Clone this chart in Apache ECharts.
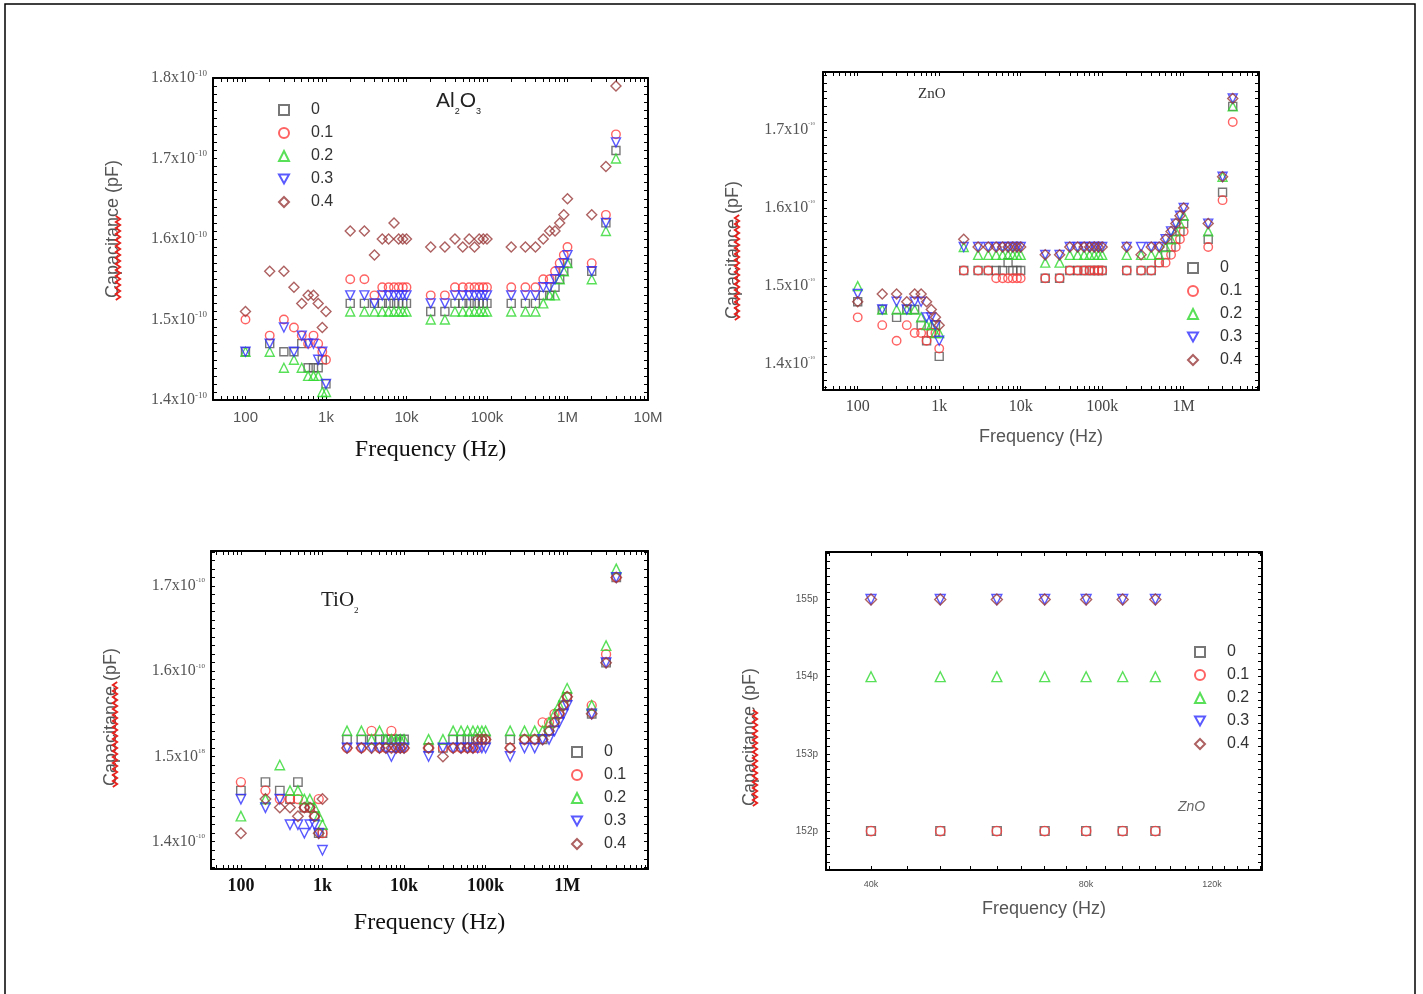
<!DOCTYPE html>
<html>
<head>
<meta charset="utf-8">
<script src="https://cdn.jsdelivr.net/npm/echarts@6/dist/echarts.min.js"></script>
<style>
  html, body { margin: 0; padding: 0; background: #fff; }
  #chart { width: 1423px; height: 994px; }
</style>
</head>
<body>
<div id="chart"></div>
<script>
// sweep frequencies (Hz), same for the three full sweeps
var freq = [100, 200, 300, 400, 500, 600, 700, 800, 900,
  1000, 2000, 3000, 4000, 5000, 6000, 7000, 8000, 9000,
  10000, 20000, 30000, 40000, 50000, 60000, 70000, 80000, 90000,
  100000, 200000, 300000, 400000, 500000, 600000, 700000, 800000, 900000,
  1000000, 2000000, 3000000, 4000000];

// Al2O3, capacitance x1e-10
var al0 = [1.46,1.47,1.46,1.46,1.47,1.44,1.44,1.44,1.45, 1.42,1.52,1.52,1.52,1.52,1.52,1.52,1.52,1.52, 1.52,1.51,1.51,1.52,1.52,1.52,1.52,1.52,1.52, 1.52,1.52,1.52,1.52,1.53,1.53,1.54,1.55,1.56, 1.57,1.56,1.62,1.71];
var al1 = [1.50,1.48,1.50,1.49,1.48,1.47,1.48,1.47,1.46, 1.45,1.55,1.55,1.53,1.54,1.54,1.54,1.54,1.54, 1.54,1.53,1.53,1.54,1.54,1.54,1.54,1.54,1.54, 1.54,1.54,1.54,1.54,1.55,1.55,1.56,1.57,1.58, 1.59,1.57,1.63,1.73];
var al2 = [1.46,1.46,1.44,1.45,1.44,1.43,1.43,1.43,1.41, 1.41,1.51,1.51,1.51,1.51,1.51,1.51,1.51,1.51, 1.51,1.50,1.50,1.51,1.51,1.51,1.51,1.51,1.51, 1.51,1.51,1.51,1.51,1.52,1.53,1.53,1.55,1.56, 1.57,1.55,1.61,1.70];
var al3 = [1.46,1.47,1.49,1.46,1.48,1.47,1.47,1.45,1.46, 1.42,1.53,1.53,1.52,1.53,1.53,1.53,1.53,1.53, 1.53,1.52,1.52,1.53,1.53,1.53,1.53,1.53,1.53, 1.53,1.53,1.53,1.53,1.54,1.54,1.55,1.56,1.57, 1.58,1.56,1.62,1.72];
var al4 = [1.51,1.56,1.56,1.54,1.52,1.53,1.53,1.52,1.49, 1.51,1.61,1.61,1.58,1.60,1.60,1.62,1.60,1.60, 1.60,1.59,1.59,1.60,1.59,1.60,1.59,1.60,1.60, 1.60,1.59,1.59,1.59,1.60,1.61,1.61,1.62,1.63, 1.65,1.63,1.69,1.79];

// ZnO
var zn0 = [1.48,1.47,1.46,1.47,1.47,1.45,1.43,1.44,1.45, 1.41,1.52,1.52,1.52,1.52,1.52,1.53,1.52,1.52, 1.52,1.51,1.51,1.52,1.52,1.52,1.52,1.52,1.52, 1.52,1.52,1.52,1.52,1.53,1.54,1.55,1.56,1.57, 1.58,1.56,1.62,1.73];
var zn1 = [1.46,1.45,1.43,1.45,1.44,1.44,1.43,1.44,1.44, 1.42,1.52,1.52,1.52,1.51,1.51,1.51,1.51,1.51, 1.51,1.51,1.51,1.52,1.52,1.52,1.52,1.52,1.52, 1.52,1.52,1.52,1.52,1.53,1.53,1.54,1.55,1.56, 1.57,1.55,1.61,1.71];
var zn2 = [1.50,1.47,1.47,1.47,1.47,1.46,1.45,1.45,1.44, 1.44,1.55,1.54,1.54,1.54,1.54,1.54,1.54,1.54, 1.54,1.53,1.53,1.54,1.54,1.54,1.54,1.54,1.54, 1.54,1.54,1.54,1.54,1.54,1.55,1.56,1.57,1.58, 1.59,1.57,1.64,1.73];
var zn3 = [1.49,1.47,1.48,1.47,1.48,1.48,1.46,1.46,1.45, 1.43,1.55,1.55,1.55,1.55,1.55,1.55,1.55,1.55, 1.55,1.54,1.54,1.55,1.55,1.55,1.55,1.55,1.55, 1.55,1.55,1.55,1.55,1.55,1.56,1.57,1.58,1.59, 1.60,1.58,1.64,1.74];
var zn4 = [1.48,1.49,1.49,1.48,1.49,1.49,1.48,1.47,1.46, 1.45,1.56,1.55,1.55,1.55,1.55,1.55,1.55,1.55, 1.55,1.54,1.54,1.55,1.55,1.55,1.55,1.55,1.55, 1.55,1.55,1.54,1.55,1.55,1.56,1.57,1.58,1.59, 1.60,1.58,1.64,1.74];

// TiO2
var ti0 = [1.46,1.47,1.46,1.45,1.47,1.44,1.44,1.43,1.41, 1.41,1.52,1.52,1.52,1.52,1.52,1.52,1.52,1.52, 1.52,1.51,1.51,1.52,1.52,1.52,1.52,1.52,1.52, 1.52,1.52,1.52,1.52,1.52,1.53,1.54,1.55,1.56, 1.57,1.55,1.61,1.71];
var ti1 = [1.47,1.46,1.45,1.45,1.45,1.44,1.44,1.43,1.45, 1.41,1.51,1.51,1.53,1.51,1.51,1.53,1.51,1.51, 1.51,1.51,1.51,1.51,1.51,1.51,1.51,1.51,1.52, 1.52,1.51,1.52,1.52,1.54,1.54,1.55,1.55,1.56, 1.57,1.56,1.62,1.71];
var ti2 = [1.43,1.45,1.49,1.46,1.46,1.45,1.45,1.44,1.43, 1.42,1.53,1.53,1.52,1.53,1.52,1.52,1.52,1.52, 1.52,1.52,1.52,1.53,1.53,1.53,1.53,1.53,1.53, 1.53,1.53,1.53,1.53,1.53,1.54,1.55,1.56,1.57, 1.58,1.56,1.63,1.72];
var ti3 = [1.45,1.44,1.45,1.42,1.42,1.41,1.42,1.42,1.41, 1.39,1.51,1.51,1.51,1.51,1.51,1.50,1.51,1.51, 1.51,1.50,1.51,1.51,1.51,1.51,1.51,1.51,1.51, 1.51,1.50,1.51,1.51,1.52,1.52,1.53,1.54,1.55, 1.56,1.55,1.61,1.71];
var ti4 = [1.41,1.45,1.44,1.44,1.43,1.44,1.44,1.43,1.41, 1.45,1.51,1.51,1.51,1.51,1.51,1.51,1.51,1.51, 1.51,1.51,1.50,1.51,1.51,1.51,1.51,1.52,1.52, 1.52,1.51,1.52,1.52,1.52,1.53,1.54,1.55,1.56, 1.57,1.55,1.61,1.71];

// ZnO close-up, 40k-100k, in pF
var zoomFreq = [40000, 50000, 60000, 70000, 80000, 90000, 100000];
var zz0 = [152, 152, 152, 152, 152, 152, 152];
var zz1 = [152, 152, 152, 152, 152, 152, 152];
var zz2 = [154, 154, 154, 154, 154, 154, 154];
var zz3 = [155, 155, 155, 155, 155, 155, 155];
var zz4 = [155, 155, 155, 155, 155, 155, 155];

var names = ['0', '0.1', '0.2', '0.3', '0.4'];
var decadeLabels = [100, 1000, 10000, 100000, 1000000, 10000000];
var zoomLabels = [40000, 80000, 120000];

var colors = ['#555555', '#ff3b3b', '#2fd82f', '#3030ff', '#9a3a3a'];
var symbols = ['rect', 'circle', 'triangle', 'path://M0,0L10,0L5,9Z', 'diamond'];
var sizes = [8, 8.5, 9, 9, 10];

var series = [];
function addPanel(p, xs, sets, scale) {
    sets.forEach(function (ys, k) {
        series.push({
            type: 'scatter', name: names[k],
            xAxisIndex: p * 2, yAxisIndex: p * 2,
            data: xs.map(function (x, i) { return [x, ys[i]]; }),
            symbol: symbols[k], symbolSize: sizes[k] * scale,
            itemStyle: { color: 'rgba(255,255,255,0)', borderColor: colors[k], borderWidth: 1.4 },
            silent: true
        });
    });
}
addPanel(0, freq, [al0, al1, al2, al3, al4], 1);
addPanel(1, freq, [zn0, zn1, zn2, zn3, zn4], 1);
addPanel(2, freq, [ti0, ti1, ti2, ti3, ti4], 1.05);
addPanel(3, zoomFreq, [zz0, zz1, zz2, zz3, zz4], 1.1);

function logTicks(lo, hi) {
    var t = [];
    for (var d = 10; d <= 1e7; d *= 10)
        for (var k = 1; k < 10; k++)
            if (k * d >= lo && k * d <= hi) t.push(k * d);
    return t;
}
function linTicks(lo, hi, step) {
    var t = [];
    for (var n = Math.ceil(lo / step - 1e-9); n <= Math.floor(hi / step + 1e-9); n++)
        t.push(+(n * step).toFixed(4));
    return t;
}
var decName = { 2: '100', 3: '1k', 4: '10k', 5: '100k', 6: '1M', 7: '10M' };
function decFmt(v) { return decName[Math.round(Math.log10(v))] || ''; }

var xAxes = [], yAxes = [];
function addX(g, min, max, ticks, labels, fmt, lab, name, nameStyle, gap) {
    var line = { onZero: false, lineStyle: { color: '#000', width: 2 } };
    var tick = { inside: true, length: 4, customValues: ticks, lineStyle: { color: '#000', width: 1 } };
    xAxes.push({
        type: 'log', gridIndex: g, position: 'bottom', min: min, max: max,
        axisLine: line, axisTick: tick, splitLine: { show: false },
        axisLabel: Object.assign({ customValues: labels, formatter: fmt }, lab),
        name: name, nameLocation: 'middle', nameGap: gap, nameTextStyle: nameStyle
    });
    xAxes.push({
        type: 'log', gridIndex: g, position: 'top', min: min, max: max,
        axisLine: line, axisTick: tick, splitLine: { show: false }, axisLabel: { show: false }
    });
}
function addY(g, min, max, step, labels, fmt, lab) {
    var line = { onZero: false, lineStyle: { color: '#000', width: 2 } };
    var tick = { inside: true, length: 4, customValues: linTicks(min, max, step), lineStyle: { color: '#000', width: 1 } };
    yAxes.push({
        type: 'value', gridIndex: g, position: 'left', min: min, max: max,
        axisLine: line, axisTick: tick, splitLine: { show: false },
        axisLabel: Object.assign({ customValues: labels, formatter: fmt }, lab)
    });
    yAxes.push({
        type: 'value', gridIndex: g, position: 'right', min: min, max: max,
        axisLine: line, axisTick: tick, splitLine: { show: false }, axisLabel: { show: false }
    });
}

function expLabel(expFor) {
    return function (v) { return '{m|' + v.toFixed(1) + 'x10}{e|' + expFor(v) + '}'; };
}
function expRich(size, esize) {
    return {
        m: { fontFamily: 'Liberation Serif', fontSize: size, color: '#555', lineHeight: size + 2 },
        e: { fontFamily: 'Liberation Serif', fontSize: esize, color: '#555', verticalAlign: 'top', lineHeight: esize + 2 }
    };
}

// Al2O3
addX(0, 39.5, 1e7, logTicks(39.5, 1e7), decadeLabels, decFmt,
    { margin: 10, fontFamily: 'Liberation Sans', fontSize: 15, color: '#555' },
    'Frequency (Hz)', { fontFamily: 'Liberation Serif', fontSize: 24, color: '#111' }, 38);
addY(0, 1.4, 1.8, 0.01, [1.4, 1.5, 1.6, 1.7, 1.8], expLabel(function () { return '-10'; }),
    { margin: 6, rich: expRich(16, 9) });
// ZnO
addX(1, 37.5, 8.4e6, logTicks(37.5, 8.4e6), decadeLabels, decFmt,
    { margin: 9, fontFamily: 'Liberation Serif', fontSize: 16, color: '#444' },
    'Frequency (Hz)', { fontFamily: 'Liberation Sans', fontSize: 18, color: '#555' }, 38);
addY(1, 1.367, 1.774, 0.01, [1.4, 1.5, 1.6, 1.7], expLabel(function () { return '-10'; }),
    { margin: 8, rich: expRich(16, 5) });
// TiO2
addX(2, 43, 9.8e6, logTicks(43, 9.8e6), decadeLabels, decFmt,
    { margin: 8, fontFamily: 'Liberation Serif', fontWeight: 'bold', fontSize: 18, color: '#111' },
    'Frequency (Hz)', { fontFamily: 'Liberation Serif', fontSize: 24, color: '#111' }, 42);
addY(2, 1.368, 1.741, 0.01, [1.4, 1.5, 1.6, 1.7],
    expLabel(function (v) { return Math.abs(v - 1.5) < 1e-6 ? '18' : '-10'; }),
    { margin: 6, rich: expRich(16, 7) });
// ZnO close-up
addX(3, 34600, 141000, linTicks(35000, 140000, 5000), zoomLabels,
    function (v) { return Math.round(v / 1000) + 'k'; },
    { margin: 10, fontFamily: 'Liberation Sans', fontSize: 9, color: '#555' },
    'Frequency (Hz)', { fontFamily: 'Liberation Sans', fontSize: 18, color: '#555' }, 30);
addY(3, 151.495, 155.615, 0.1, [152, 153, 154, 155],
    function (v) { return Math.round(v) + 'p'; },
    { margin: 8, fontFamily: 'Liberation Sans', fontSize: 10, color: '#555' });

// symbol centre at cx, first row centred at cy
function legendAt(cx, cy) {
    return {
        left: cx - 5, top: cy - 8, orient: 'vertical', padding: 0,
        itemWidth: 10, itemHeight: 10, itemGap: 7, selectedMode: false, data: names,
        textStyle: { fontFamily: 'Liberation Sans', fontSize: 16, lineHeight: 16, color: '#333', padding: [0, 0, 0, 17] }
    };
}

function yName(x, y) {
    return {
        type: 'text', x: x, y: y, rotation: Math.PI / 2, silent: true,
        style: { text: 'Capacitance (pF)', align: 'center', verticalAlign: 'middle',
            fontFamily: 'Liberation Sans', fontSize: 18, fill: '#555' }
    };
}
// red spell-check wave under "Capacitance"
function wave(x, y0, len) {
    var pts = [];
    for (var i = 0; i * 3 <= len; i++) pts.push([x + (i % 2 ? 2.2 : -2.2), y0 - i * 3]);
    return { type: 'polyline', silent: true, shape: { points: pts },
        style: { stroke: '#e8201c', lineWidth: 1.8, fill: null } };
}

var option = {
    animation: false,
    backgroundColor: '#fff',
    grid: [
        { left: 213, top: 78, width: 435, height: 322 },
        { left: 823, top: 72, width: 436, height: 318 },
        { left: 211, top: 551, width: 437, height: 318 },
        { left: 826, top: 552, width: 436, height: 318 }
    ],
    xAxis: xAxes,
    yAxis: yAxes,
    legend: [legendAt(283, 110), legendAt(1192, 268), legendAt(576, 752), legendAt(1199, 652)],
    series: series,
    graphic: [
        { type: 'rect', silent: true, shape: { x: 5, y: 4, width: 1410, height: 1010 },
          style: { fill: null, stroke: '#000', lineWidth: 1.5 } },
        yName(113, 229), wave(118, 300, 85),
        yName(733, 250), wave(737, 320, 105),
        yName(111, 717), wave(115, 787, 105),
        yName(750, 737), wave(755, 806, 96),
        { type: 'text', left: 436, top: 91, silent: true,
          style: { text: '{a|Al}{s|2}{a|O}{s|3}',
            rich: { a: { fontFamily: 'Liberation Sans', fontSize: 21, fill: '#222', lineHeight: 30 },
                    s: { fontFamily: 'Liberation Sans', fontSize: 9, fill: '#222', verticalAlign: 'bottom', lineHeight: 10 } } } },
        { type: 'text', left: 918, top: 87, silent: true,
          style: { text: 'ZnO', fontFamily: 'Liberation Serif', fontSize: 15, fill: '#333' } },
        { type: 'text', left: 321, top: 590, silent: true,
          style: { text: '{a|TiO}{s|2}',
            rich: { a: { fontFamily: 'Liberation Serif', fontSize: 21, fill: '#222', lineHeight: 30 },
                    s: { fontFamily: 'Liberation Serif', fontSize: 9, fill: '#222', verticalAlign: 'bottom', lineHeight: 10 } } } },
        { type: 'text', left: 1178, top: 800, silent: true,
          style: { text: 'ZnO', fontFamily: 'Liberation Sans', fontStyle: 'italic', fontSize: 14, fill: '#666' } }
    ]
};

var myChart = echarts.init(document.getElementById('chart'));
myChart.setOption(option);
window.onresize = myChart.resize;
</script>
</body>
</html>
